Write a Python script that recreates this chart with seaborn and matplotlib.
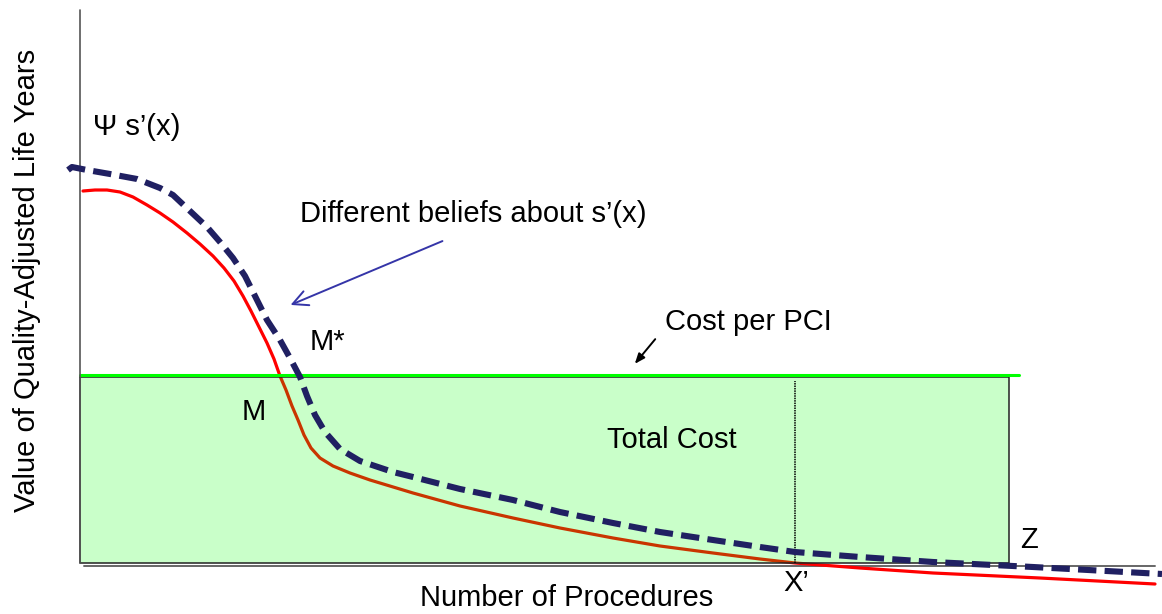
import numpy as np
import pandas as pd
import matplotlib as mpl
mpl.use("Agg")
import matplotlib.pyplot as plt
import seaborn as sns
from matplotlib.patches import Rectangle

sns.set_theme(style="white")
plt.rcParams["font.family"] = ["Liberation Sans", "DejaVu Sans"]
plt.rcParams["text.color"] = "black"

# curve data, x = number of procedures, y = value (baseline at 0)
red_x = [3, 15, 27, 40, 53, 67, 80, 93, 107, 120, 133, 144, 154, 163, 171, 179, 187, 194,
         200, 206, 212, 218, 224, 231, 240, 253, 270, 290, 333, 380, 433, 480, 533, 580,
         633, 680, 715, 780, 853, 960, 1075]
red_y = [372, 373, 373, 371, 366, 358, 350, 341, 330, 319, 307, 295, 282, 267, 252, 236, 220, 204,
         187, 173, 157, 143, 128, 115, 105, 97, 90, 83, 70, 57, 45, 35, 25, 17,
         10, 4, 0, -5, -10, -15, -21]

blue_x = [-12, -8, 7, 30, 57, 80, 93, 110, 127, 140, 153, 165, 176, 187, 200, 210, 220, 227,
          235, 245, 260, 280, 313, 333, 380, 433, 480, 533, 580, 633, 680, 715, 780, 853,
          953, 1082]
blue_y = [393, 396, 393, 389, 384, 375, 368, 352, 336, 321, 305, 287, 265, 243, 223, 205, 186, 167,
          148, 131, 114, 102, 91, 86, 74, 63, 51, 40, 31, 23, 16, 11, 6, 1,
          -4, -11]

cost_per_pci = 186
z_point = 929
x_prime = 715

df_red = pd.DataFrame({"x": red_x, "y": red_y})
df_blue = pd.DataFrame({"x": blue_x, "y": blue_y})

fig = plt.figure(figsize=(11.62, 6.14), dpi=100)
ax = fig.add_axes([0, 0, 1, 1])
ax.set_xlim(-80, 1082)
ax.set_ylim(-51, 563)
ax.axis("off")

# red curve sits under the translucent cost box
sns.lineplot(data=df_red, x="x", y="y", ax=ax, color="#ff0000", lw=2.3,
             sort=False, estimator=None, zorder=2)

ax.add_patch(Rectangle((0, 0), z_point, cost_per_pci, facecolor=(0, 1, 0, 0.21),
                       edgecolor="none", zorder=3))
ax.plot([0, z_point, z_point, 0, 0], [cost_per_pci, cost_per_pci, 0, 0, cost_per_pci],
        color="#222222", lw=1.1, zorder=4)
ax.plot([0, 939], [cost_per_pci + 2, cost_per_pci + 2], color="#00ff00", lw=2.2, zorder=4)
ax.plot([x_prime, x_prime], [0, cost_per_pci - 4], color="black", lw=1.1,
        linestyle=(0, (1, 0.6)), zorder=4)

# axes
ax.plot([0, 0], [0, 553], color="#555555", lw=1.2, zorder=4)
ax.plot([4, 1075], [-3, -3], color="#666666", lw=1.4, zorder=1)

sns.lineplot(data=df_blue, x="x", y="y", ax=ax, color="#202062", lw=4.4,
             sort=False, estimator=None, linestyle=(0, (3.0, 1.35)), zorder=5)
ax.set_xlabel("")
ax.set_ylabel("")

fs = 21
ax.text(13, 436, "Ψ s’(x)", fontsize=fs, va="center", ha="left")
ax.text(220, 349, "Different beliefs about s’(x)", fontsize=fs, va="center", ha="left")
ax.text(585, 241, "Cost per PCI", fontsize=fs, va="center", ha="left")
ax.text(230, 221, "M*", fontsize=fs, va="center", ha="left")
ax.text(162, 151, "M", fontsize=fs, va="center", ha="left")
ax.text(527, 123, "Total Cost", fontsize=fs, va="center", ha="left")
ax.text(940, 23, "Z", fontsize=fs, va="center", ha="left")
ax.text(703, -20, "X’", fontsize=fs, va="center", ha="left")
ax.text(487, -35, "Number of Procedures", fontsize=fs, va="center", ha="center")
ax.text(-53, 283, "Value of Quality-Adjusted Life Years", fontsize=fs, va="center",
        ha="center", rotation=90)

ax.annotate("", xy=(208, 257), xytext=(365, 323),
            arrowprops=dict(arrowstyle="->,head_length=0.9,head_width=0.45",
                            color="#3535a8", lw=1.4))
ax.annotate("", xy=(553, 197), xytext=(577, 226),
            arrowprops=dict(arrowstyle="-|>,head_length=0.5,head_width=0.2",
                            color="black", lw=1.4))

fig.savefig("out.png", dpi=100)
